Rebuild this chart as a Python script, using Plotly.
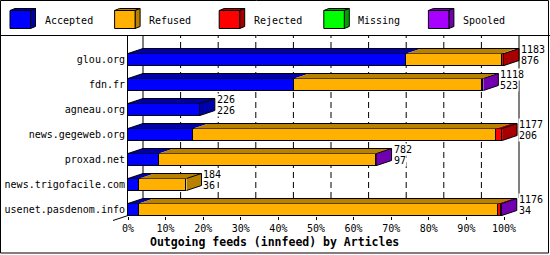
import plotly.graph_objects as go

# ---------------- data ----------------
hosts = ["glou.org", "fdn.fr", "agneau.org", "news.gegeweb.org",
         "proxad.net", "news.trigofacile.com", "usenet.pasdenom.info"]
offered = [1183, 1118, 226, 1177, 782, 184, 1176]
accepted = [876, 523, 226, 206, 97, 36, 34]
refused = [300, 591, 0, 952, 684, 148, 1130]
rejected = [7, 0, 0, 19, 0, 0, 10]
missing = [0, 0, 0, 0, 0, 0, 0]
spooled = [0, 4, 0, 0, 1, 0, 2]
series_names = ["Accepted", "Refused", "Rejected", "Missing", "Spooled"]
x_ticks = [0, 10, 20, 30, 40, 50, 60, 70, 80, 90, 100]
x_tick_labels = [f"{v}%" for v in x_ticks]
axis_title = "Outgoing feeds (innfeed) by Articles"

# ---------------- style ----------------
front_colors = ["#0000FF", "#FFB000", "#FF0000", "#00FF00", "#A800FF"]
dark_colors = ["#0000A8", "#B88200", "#A80000", "#00A000", "#7000B0"]
FONT = "DejaVu Sans Mono"
W, H = 550, 255
ML, MR, MT, MB = 128, 0, 36, 39
PW, PH = W - ML - MR, H - MT - MB
PX_PER_PCT = 3.76
ROW_PX = 25.0
ROW0_PY = 59.5
DX = 15 / PX_PER_PCT       # depth in x (data units)
DY = 5 / ROW_PX            # depth upward (row units)
HALF = 6 / ROW_PX          # half bar thickness

def px(x):   # pixel -> paper x
    return (x - ML) / PW

def py(y):   # pixel -> paper y
    return (H - MB - y) / PH

series = [accepted, refused, rejected, missing, spooled]
scale = 100.0 / max(offered)
rows = list(range(len(hosts)))

fig = go.Figure()

# front faces
for name, vals, col in zip(series_names, series, front_colors):
    fig.add_trace(go.Bar(
        x=[v * scale if v > 0 else None for v in vals], y=rows, orientation="h",
        width=2 * HALF, marker=dict(color=col, line=dict(color="black", width=1)),
        name=name, showlegend=False, hoverinfo="skip"))

# top and side faces
top_x = [[] for _ in series]
top_y = [[] for _ in series]
side_x = [[] for _ in series]
side_y = [[] for _ in series]
out_x, out_y = [], []
ends = []
for i in rows:
    start = 0.0
    last = 0
    yt, yb = i - HALF, i + HALF
    for s, vals in enumerate(series):
        v = vals[i] * scale
        if v <= 0:
            continue
        a, b = start, start + v
        top_x[s] += [a, a + DX, b + DX, b, a, None]
        top_y[s] += [yt, yt - DY, yt - DY, yt, yt, None]
        start = b
        last = s
    e = start
    ends.append(e)
    side_x[last] += [e, e + DX, e + DX, e, e, None]
    side_y[last] += [yt, yt - DY, yb - DY, yb, yt, None]
    out_x += [0, DX, e + DX, e + DX, e, None, e, e + DX, None]
    out_y += [yt, yt - DY, yt - DY, yb - DY, yb, None, yt, yt - DY, None]

for s in range(len(series)):
    for xs, ys in ((top_x[s], top_y[s]), (side_x[s], side_y[s])):
        if xs:
            fig.add_trace(go.Scatter(x=xs, y=ys, mode="lines", fill="toself",
                                     fillcolor=dark_colors[s], line=dict(width=0),
                                     showlegend=False, hoverinfo="skip"))
fig.add_trace(go.Scatter(x=out_x, y=out_y, mode="lines",
                         line=dict(color="black", width=1),
                         showlegend=False, hoverinfo="skip"))

# value labels
for i in rows:
    lx = ends[i] + 16 / PX_PER_PCT
    for txt, off in ((str(offered[i]), -10), (str(accepted[i]), 0.5)):
        fig.add_annotation(x=lx, y=i + off / ROW_PX, xref="x", yref="y",
                           text=txt, showarrow=False, xanchor="left",
                           yanchor="middle", bgcolor="white", borderpad=0,
                           font=dict(family=FONT, size=10, color="black"))

shapes = []
# back-plane grid
grid_bottom = py(198)
for t in x_ticks:
    solid = t in (0, 100)
    shapes.append(dict(type="line", xref="x", yref="paper", x0=t + DX, x1=t + DX,
                       y0=grid_bottom, y1=1, layer="below",
                       line=dict(color="black", width=1, dash="solid" if solid else "6px,4px")))
# floor diagonal
shapes.append(dict(type="line", xref="paper", yref="paper", x0=px(113), y0=py(220.5),
                   x1=px(128), y1=py(215.5), line=dict(color="black", width=1)))
# separator and border
shapes.append(dict(type="line", xref="paper", yref="paper", x0=px(0), x1=px(W),
                   y0=py(35.5), y1=py(35.5), line=dict(color="black", width=1)))
shapes.append(dict(type="rect", xref="paper", yref="paper", x0=px(0.5), x1=px(548.5),
                   y0=py(253), y1=py(0.5), line=dict(color="black", width=1)))

# legend (3D boxes)
for k, (name, fc, dc) in enumerate(zip(series_names, front_colors, dark_colors)):
    x0 = 10 + 104.6 * k
    x1 = x0 + 20.5
    y0, y1 = 10.5, 28.5
    d, u = 5, 2
    shapes.append(dict(type="path", xref="paper", yref="paper",
                       path=f"M{px(x0)},{py(y0)} L{px(x0+d)},{py(y0-u)} L{px(x1+d)},{py(y0-u)} L{px(x1)},{py(y0)} Z",
                       fillcolor=dc, line=dict(color="black", width=1)))
    shapes.append(dict(type="path", xref="paper", yref="paper",
                       path=f"M{px(x1)},{py(y0)} L{px(x1+d)},{py(y0-u)} L{px(x1+d)},{py(y1-u)} L{px(x1)},{py(y1)} Z",
                       fillcolor=dc, line=dict(color="black", width=1)))
    shapes.append(dict(type="rect", xref="paper", yref="paper",
                       x0=px(x0), x1=px(x1), y0=py(y1), y1=py(y0),
                       fillcolor=fc, line=dict(color="black", width=1)))
    fig.add_annotation(x=px(x0 + 32.5), y=py(20), xref="paper", yref="paper",
                       text=name, showarrow=False, xanchor="left", yanchor="middle",
                       font=dict(family=FONT, size=10, color="black"))

fig.add_annotation(x=px(274), y=py(242), xref="paper", yref="paper", text=f"<b>{axis_title}</b>",
                   showarrow=False, xanchor="center", yanchor="middle",
                   font=dict(family=FONT, size=11.5, color="black"))

fig.update_layout(
    width=W, height=H, margin=dict(l=ML, r=MR, t=MT, b=MB, pad=0),
    paper_bgcolor="white", plot_bgcolor="white", barmode="stack", bargap=0,
    shapes=shapes, showlegend=False,
    xaxis=dict(range=[0, PW / PX_PER_PCT], tickvals=x_ticks, ticktext=x_tick_labels,
               ticks="outside", ticklen=3, tickcolor="black", tickwidth=1,
               showgrid=False, zeroline=False, showline=False, fixedrange=True,
               tickfont=dict(family=FONT, size=10, color="black")),
    yaxis=dict(range=[(H - MB - ROW0_PY) / ROW_PX, (MT - ROW0_PY) / ROW_PX],
               tickvals=rows, ticktext=hosts, ticks="", showgrid=False, zeroline=False,
               showline=True, linecolor="black", linewidth=1, fixedrange=True,
               tickfont=dict(family=FONT, size=10, color="black")),
)

fig.write_html("out.html", config={"displayModeBar": False})
